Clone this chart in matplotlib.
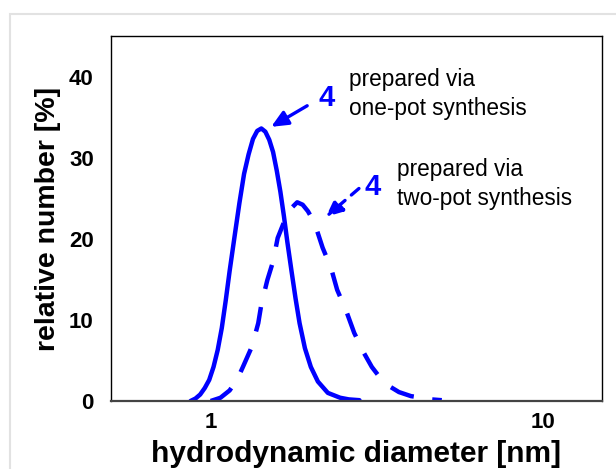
import numpy as np
import matplotlib
matplotlib.use("Agg")
import matplotlib.pyplot as plt
from matplotlib.patches import Rectangle

plt.rcParams['font.family'] = ['Liberation Sans', 'DejaVu Sans']

# one-pot synthesis (solid)
one_pot_d = [0.87, 0.90, 0.93, 0.96, 0.99, 1.02, 1.05, 1.08, 1.11, 1.14, 1.18,
             1.22, 1.26, 1.30, 1.34, 1.38, 1.42, 1.46, 1.50, 1.54, 1.58, 1.62,
             1.66, 1.70, 1.75, 1.80, 1.85, 1.92, 2.00, 2.10, 2.25, 2.45, 2.60, 2.80]
one_pot_n = [0.0, 0.3, 0.8, 1.6, 2.6, 4.2, 6.3, 9.0, 12.4, 16.0, 20.3,
             24.4, 28.0, 30.4, 32.3, 33.3, 33.6, 33.2, 32.2, 30.7, 28.4, 25.8,
             22.8, 19.6, 16.0, 12.6, 9.6, 6.5, 4.2, 2.4, 1.0, 0.4, 0.2, 0.1]

# two-pot synthesis (dashed)
two_pot_d = [1.00, 1.07, 1.14, 1.20, 1.25, 1.33, 1.39, 1.42, 1.48, 1.54, 1.59,
             1.67, 1.75, 1.82, 1.89, 1.96, 2.05, 2.17, 2.30, 2.40, 2.55, 2.70,
             2.89, 3.05, 3.24, 3.45, 3.68, 4.00, 4.31, 4.60, 4.95]
two_pot_n = [0.0, 0.4, 1.3, 2.6, 4.2, 6.7, 9.6, 11.9, 14.9, 17.2, 20.1,
             22.3, 23.8, 24.5, 24.2, 23.4, 22.0, 18.9, 16.4, 13.7, 11.2, 8.4,
             5.9, 4.2, 2.8, 1.8, 1.1, 0.6, 0.4, 0.2, 0.1]

blue = '#0000ff'

fig = plt.figure(figsize=(6.16, 4.69), dpi=100)
fig.patches.append(Rectangle((10 / 616, -0.1), 1.2, 1 - 14 / 469 + 0.1,
                             transform=fig.transFigure, fill=False,
                             edgecolor='#e2e2e2', linewidth=1.5))

ax = fig.add_axes([110.5 / 616, 1 - 401 / 469, (602 - 110.5) / 616, (401 - 36) / 469])
ax.plot(one_pot_d, one_pot_n, color=blue, lw=3.2, solid_capstyle='round')
ax.plot(two_pot_d, two_pot_n, color=blue, lw=3.2, dashes=(5.6, 4.2))

ax.set_xscale('log')
ax.set_xlim(0.5, 15)
ax.set_ylim(0, 45)
ax.set_xticks([1, 10])
ax.set_xticklabels(['1', '10'])
ax.xaxis.set_minor_locator(matplotlib.ticker.NullLocator())
ax.set_yticks([0, 10, 20, 30, 40])
ax.tick_params(length=0, labelsize=16)
ax.tick_params(axis='y', pad=12)
ax.tick_params(axis='x', pad=8)
for lab in ax.get_xticklabels() + ax.get_yticklabels():
    lab.set_fontweight('bold')
for s in ax.spines.values():
    s.set_linewidth(1.0)
ax.spines['bottom'].set_color('#444444')
ax.spines['bottom'].set_linewidth(1.6)

ax.set_xlabel('hydrodynamic diameter [nm]', fontsize=21.5, fontweight='bold', labelpad=5)
ax.set_ylabel('relative number [%]', fontsize=20.5, fontweight='bold', labelpad=6)

# annotations
ax.annotate('', xy=(1.52, 33.8), xytext=(1.95, 36.4),
            arrowprops=dict(arrowstyle='-|>,head_length=1.0,head_width=0.45',
                            color=blue, lw=2.4, shrinkA=0, shrinkB=0))
ax.text(2.23, 37.35, '4', color=blue, fontsize=21, fontweight='bold',
        ha='center', va='center')
ax.text(2.61, 41.0, 'prepared via\none-pot synthesis', fontsize=16.3,
        ha='left', va='top', linespacing=1.3)

ax.annotate('', xy=(2.22, 22.7), xytext=(2.79, 26.2),
            arrowprops=dict(arrowstyle='-|>,head_length=1.0,head_width=0.45',
                            color=blue, lw=2.4, linestyle=(0, (3, 2.5)),
                            shrinkA=0, shrinkB=0))
ax.text(3.07, 26.4, '4', color=blue, fontsize=21, fontweight='bold',
        ha='center', va='center')
ax.text(3.63, 29.9, 'prepared via\ntwo-pot synthesis', fontsize=16.3,
        ha='left', va='top', linespacing=1.3)

fig.savefig('out.png', dpi=100)
